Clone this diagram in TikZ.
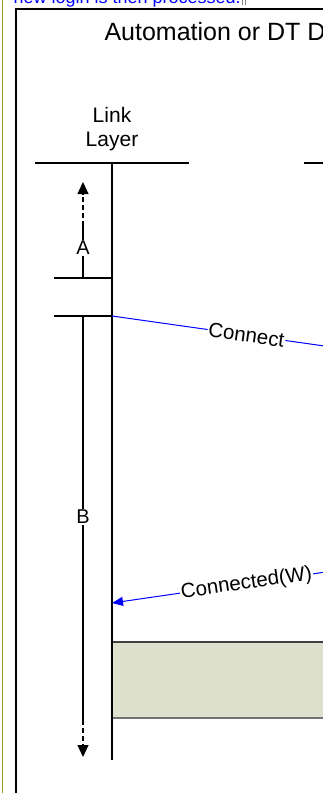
\documentclass[tikz,border=0pt]{standalone}
\usepackage{fontspec}
\setmainfont{Liberation Sans}
\usetikzlibrary{arrows.meta}
\definecolor{msgblue}{RGB}{0,0,255}
\definecolor{boxfill}{RGB}{221,224,204}
\definecolor{olivebar}{RGB}{160,160,40}
\tikzstyle{msg}=[draw=msgblue,line width=1pt,-{Triangle[length=11pt,width=9pt]}]
\tikzstyle{span}=[line width=1.1pt,-{Triangle[length=12pt,width=11pt]}]
\tikzstyle{msglabel}=[fill=white,inner sep=1pt,font=\fontsize{20.5}{22}\selectfont]
\tikzstyle{spanlabel}=[fill=white,inner sep=1pt,font=\fontsize{20}{22}\selectfont]

\begin{document}
\begin{tikzpicture}[x=1pt,y=-1pt,line width=1.1pt]
\useasboundingbox (0,0) rectangle (323,793);
\clip (0,0) rectangle (323,793);

% page margin and note cut off at the top
\draw[olivebar,line width=1.3pt] (2.7,0)--(2.7,793);
\node[anchor=base west,inner sep=0,text=msgblue,font=\fontsize{18}{20}\selectfont] (note) at (13,3) {new login is then processed.};
\draw[gray,line width=0.6pt] (242.5,0)--(242.5,5) (245,0)--(245,5);

% frame and title
\draw (16,800)--(16,9)--(340,9);
\node[anchor=base west,inner sep=0,font=\fontsize{25}{30}\selectfont] (title) at (104,40) {Automation or DT Device};

% lifelines
\node[align=center,anchor=base,inner sep=0,font=\fontsize{21}{24.4}\selectfont] (linklayer) at (112,146.7) {Link\\Layer};
\coordinate (ll) at (112,163);
\coordinate (llend) at (112,760);
\coordinate (dt) at (381,163);
\draw (35,163)--(189,163);
\draw (304,163)--(458,163);

% procedure box
\fill[boxfill] (112,642) rectangle (420,718);
\draw[black!75] (112,642)--(420,642);
\draw[black!55,line width=1.3pt] (112,718)--(420,718);
\draw (ll)--(llend);

% time spans
\coordinate (a0) at (83,182);
\coordinate (a1) at (83,226);
\coordinate (a2) at (83,278);
\coordinate (b0) at (83,316);
\coordinate (b1) at (83,720);
\coordinate (b2) at (83,757);
\draw (54,278)--(112,278);
\draw (54,316)--(112,316);
\draw (a2)--(a1);
\draw[span,dash pattern=on 5pt off 3pt] (a1)--(a0);
\node[spanlabel] (A) at (83,248) {A};
\draw (b0)--(b1);
\draw[span,dash pattern=on 5pt off 3pt] (b1)--(b2);
\node[spanlabel] (B) at (83,517) {B};

% messages
\coordinate (c1) at (112,316);
\coordinate (c2) at (381,354);
\draw[msg] (c1) -- node[msglabel,sloped] {Connect} (c2);
\coordinate (d1) at (381,564);
\coordinate (d2) at (112,603);
\draw[msg] (d1) -- node[msglabel,sloped] {Connected(W)} (d2);
\end{tikzpicture}
\end{document}
